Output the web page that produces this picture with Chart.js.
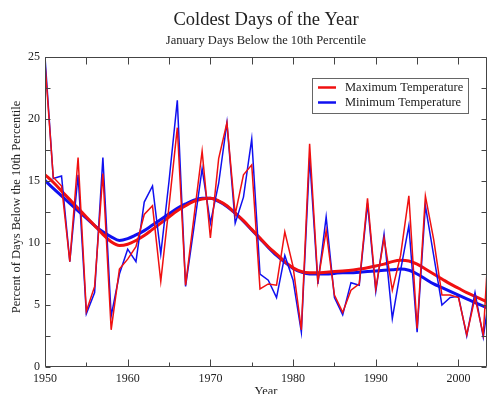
<!DOCTYPE html>
<html>
<head>
<meta charset="utf-8">
<script src="https://cdn.jsdelivr.net/npm/chart.js@4/dist/chart.umd.min.js"></script>
<style>
  html, body { margin: 0; padding: 0; background: #fff; overflow: hidden; }
  canvas { display: block; }
</style>
</head>
<body>
<canvas id="c" width="487" height="394"></canvas>
<script>
// January days below the 10th percentile, per year
const years = [1950,1951,1952,1953,1954,1955,1956,1957,1958,1959,
               1960,1961,1962,1963,1964,1965,1966,1967,1968,1969,
               1970,1971,1972,1973,1974,1975,1976,1977,1978,1979,
               1980,1981,1982,1983,1984,1985,1986,1987,1988,1989,
               1990,1991,1992,1993,1994,1995,1996,1997,1998,1999,
               2000,2001,2002,2003,2004];

const maxTemp = [24.5,15.3,14.6,8.5,16.9,4.5,6.5,15.6,3.0,7.9,
                 8.7,9.7,12.3,13.0,6.9,13.0,19.3,6.6,12.0,17.4,
                 10.4,16.8,19.7,12.3,15.5,16.3,6.3,6.7,6.6,10.9,
                 8.1,3.0,18.0,6.9,11.0,5.8,4.4,6.2,6.7,13.6,
                 6.3,10.4,6.2,9.0,13.8,3.1,13.8,10.3,5.8,5.8,
                 5.6,2.6,5.6,2.6,14.0];

const minTemp = [25.0,15.2,15.4,8.5,15.5,4.3,6.0,16.9,4.1,7.5,
                 9.5,8.5,13.3,14.6,9.1,15.0,21.5,6.5,11.2,16.0,
                 11.6,14.8,19.7,11.6,13.7,18.4,7.5,7.0,5.6,9.0,
                 7.0,2.8,16.9,6.7,12.1,5.6,4.2,6.8,6.6,13.2,
                 6.1,10.7,3.9,7.8,11.4,2.8,13.0,9.0,5.0,5.6,
                 5.7,2.5,6.0,2.4,7.0];

// smoothed trend curves
const maxTrend = [15.5,14.9,14.2,13.5,12.8,12.1,11.4,10.7,10.1,9.8,
                  9.9,10.2,10.6,11.1,11.6,12.1,12.6,13.0,13.35,13.55,
                  13.6,13.4,13.0,12.4,11.8,11.1,10.4,9.7,9.1,8.5,
                  8.0,7.7,7.6,7.6,7.65,7.7,7.75,7.8,7.9,8.0,
                  8.15,8.3,8.5,8.6,8.55,8.3,7.9,7.5,7.1,6.7,
                  6.35,6.0,5.7,5.4,5.1];

const minTrend = [15.05,14.4,13.8,13.2,12.6,12.0,11.4,10.9,10.5,10.2,
                  10.35,10.65,11.0,11.45,11.9,12.35,12.8,13.15,13.45,13.6,
                  13.6,13.35,12.95,12.4,11.75,11.05,10.35,9.65,9.0,8.45,
                  7.95,7.65,7.5,7.5,7.5,7.55,7.6,7.6,7.65,7.7,
                  7.75,7.8,7.85,7.9,7.8,7.5,7.1,6.7,6.4,6.1,
                  5.8,5.5,5.2,4.9,4.6];

const xTicks = [1950,1960,1970,1980,1990,2000];
const xMinorTicks = [1955,1965,1975,1985,1995];
const yTicks = [0,5,10,15,20,25];
const yMinorTicks = [2.5,7.5,12.5,17.5,22.5];

const titleText = 'Coldest Days of the Year';
const subtitleText = 'January Days Below the 10th Percentile';
const xTitle = 'Year';
const yTitle = 'Percent of Days Below the 10th Percentile';

const SERIF = '"Liberation Serif", "Times New Roman", serif';
const RED = '#f01010';
const BLUE = '#1010f0';

const pts = arr => years.map((y, i) => ({ x: y, y: arr[i] }));

// frame, inward ticks, titles and the in-plot legend
const decor = {
  id: 'decor',
  afterDatasetsDraw(chart) {
    const { ctx, chartArea: a, scales: { x, y } } = chart;
    ctx.save();
    ctx.strokeStyle = '#444';
    ctx.lineWidth = 1;
    ctx.beginPath();
    const L = Math.round(a.left) + 0.5, R = Math.round(a.right) - 0.5;
    const T = Math.round(a.top) + 0.5, B = Math.round(a.bottom) - 0.5;
    ctx.rect(L, T, R - L, B - T);
    xTicks.forEach(v => {
      const px = Math.round(x.getPixelForValue(v)) + 0.5;
      ctx.moveTo(px, B); ctx.lineTo(px, B - 7);
      ctx.moveTo(px, T); ctx.lineTo(px, T + 7);
    });
    xMinorTicks.forEach(v => {
      const px = Math.round(x.getPixelForValue(v)) + 0.5;
      ctx.moveTo(px, B); ctx.lineTo(px, B - 4);
      ctx.moveTo(px, T); ctx.lineTo(px, T + 7);
    });
    yTicks.concat(yMinorTicks).forEach(v => {
      const py = Math.round(y.getPixelForValue(v)) + 0.5;
      ctx.moveTo(L, py); ctx.lineTo(L + 5, py);
      ctx.moveTo(R, py); ctx.lineTo(R - 5, py);
    });
    ctx.stroke();
    ctx.restore();
  },
  afterDraw(chart) {
    const { ctx, chartArea: a } = chart;
    const cx = (a.left + a.right) / 2;
    ctx.save();
    ctx.fillStyle = '#222';
    ctx.textAlign = 'center';
    ctx.textBaseline = 'middle';
    ctx.font = `18.5px ${SERIF}`;
    ctx.fillText(titleText, cx, 20);
    ctx.font = `12.5px ${SERIF}`;
    ctx.fillText(subtitleText, cx, 40.5);
    ctx.font = `12.5px ${SERIF}`;
    ctx.fillText(xTitle, cx, 392);
    ctx.translate(17, 207);
    ctx.rotate(-Math.PI / 2);
    ctx.fillText(yTitle, 0, 0);
    ctx.restore();

    // legend box
    const ds = chart.data.datasets;
    const bx = 312.5, by = 78.5, bw = 156, bh = 35;
    ctx.save();
    ctx.fillStyle = '#fff';
    ctx.fillRect(bx, by, bw, bh);
    ctx.strokeStyle = '#666';
    ctx.lineWidth = 1;
    ctx.strokeRect(bx, by, bw, bh);
    ctx.font = `12.5px ${SERIF}`;
    ctx.textAlign = 'left';
    ctx.textBaseline = 'middle';
    [0, 1].forEach((k, i) => {
      const ly = 87.5 + i * 15;
      ctx.strokeStyle = ds[k].borderColor;
      ctx.lineWidth = 2.5;
      ctx.beginPath();
      ctx.moveTo(318, ly); ctx.lineTo(336, ly);
      ctx.stroke();
      ctx.fillStyle = '#222';
      ctx.fillText(ds[k].label, 345, ly + 0.5);
    });
    ctx.restore();
  }
};

new Chart(document.getElementById('c'), {
  type: 'line',
  data: {
    datasets: [
      { label: 'Maximum Temperature', data: pts(maxTemp), borderColor: RED, borderWidth: 1.5, pointRadius: 0, tension: 0 },
      { label: 'Minimum Temperature', data: pts(minTemp), borderColor: BLUE, borderWidth: 1.5, pointRadius: 0, tension: 0 },
      { label: 'Maximum trend', data: pts(maxTrend), borderColor: RED, borderWidth: 3, pointRadius: 0, cubicInterpolationMode: 'monotone' },
      { label: 'Minimum trend', data: pts(minTrend), borderColor: BLUE, borderWidth: 3, pointRadius: 0, cubicInterpolationMode: 'monotone' }
    ]
  },
  options: {
    responsive: false,
    devicePixelRatio: 1,
    animation: false,
    layout: { padding: { top: 57, right: 0, bottom: 0, left: 0 } },
    plugins: { legend: { display: false }, tooltip: { enabled: false } },
    scales: {
      x: {
        type: 'linear',
        min: 1950,
        max: 2003.45,
        grid: { display: false, drawTicks: false },
        border: { display: false },
        afterBuildTicks: s => { s.ticks = xTicks.map(v => ({ value: v })); },
        afterFit: s => { s.height = 27; },
        ticks: { color: '#222', padding: 5, maxRotation: 0, font: { family: SERIF, size: 12 }, callback: v => String(v) }
      },
      y: {
        min: 0,
        max: 25,
        grid: { display: false, drawTicks: false },
        border: { display: false },
        afterBuildTicks: s => { s.ticks = yTicks.map(v => ({ value: v })); },
        afterFit: s => { s.width = 45; },
        ticks: { color: '#222', padding: 5, font: { family: SERIF, size: 12 }, callback: v => String(v) }
      }
    }
  },
  plugins: [decor]
});
</script>
</body>
</html>
